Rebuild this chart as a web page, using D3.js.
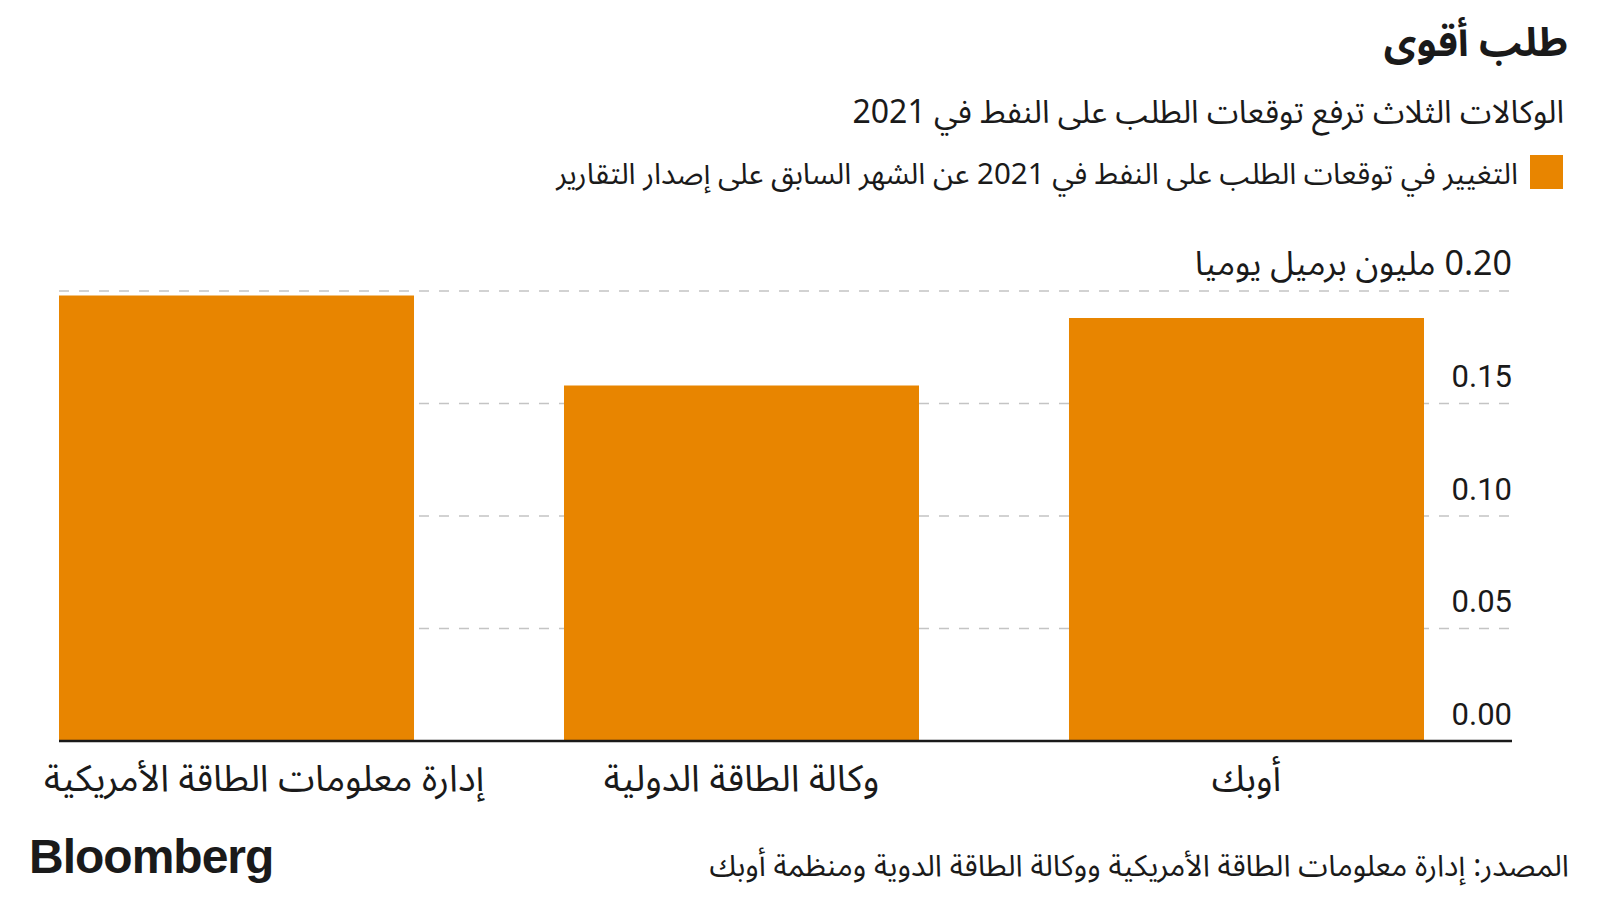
<!DOCTYPE html>
<html>
<head>
<meta charset="utf-8">
<script src="https://cdn.jsdelivr.net/npm/d3@7"></script>
<style>
  html, body { margin: 0; padding: 0; background: #fff; }
  svg text { fill: #1a1a1a; }
</style>
</head>
<body>
<svg id="chart" width="1600" height="900"></svg>
<script>
const agencies = ["إدارة معلومات الطاقة الأمريكية", "وكالة الطاقة الدولية", "أوبك"];
const demandChange = [0.198, 0.158, 0.188];
const tickValues = [0, 0.05, 0.1, 0.15, 0.2];
const unitLabel = "مليون برميل يوميا";

const title = "طلب أقوى";
const subtitle = "الوكالات الثلاث ترفع توقعات الطلب على النفط في 2021";
const legendLabel = "التغيير في توقعات الطلب على النفط في 2021 عن الشهر السابق على إصدار التقارير";
const source = "المصدر: إدارة معلومات الطاقة الأمريكية ووكالة الطاقة الدوية ومنظمة أوبك";

const ORANGE = "#e88500";
const AR_FONT = "'Noto Sans Arabic', 'DejaVu Sans', sans-serif";
const NUM_FONT = "Roboto, 'DejaVu Sans', sans-serif";

const svg = d3.select("#chart");

const plot = { left: 59, right: 1512, top: 291, bottom: 741, barsRight: 1424 };
const labelMinLeft = 44;

const x = d3.scaleBand()
  .domain(agencies)
  .range([plot.left, plot.barsRight])
  .paddingInner(0.297)
  .paddingOuter(0);

const y = d3.scaleLinear()
  .domain([0, 0.2])
  .range([plot.bottom, plot.top]);

// header
svg.append("text")
  .attr("x", 1568).attr("y", 56)
  .attr("direction", "rtl").attr("text-anchor", "start")
  .style("font-family", AR_FONT).style("font-weight", "bold").style("font-size", "40px")
  .text(title);

svg.append("text")
  .attr("x", 1564).attr("y", 123)
  .attr("direction", "rtl").attr("text-anchor", "start")
  .style("font-family", AR_FONT).style("font-size", "32px")
  .text(subtitle);

svg.append("rect")
  .attr("x", 1530).attr("y", 155)
  .attr("width", 33).attr("height", 34)
  .attr("fill", ORANGE);

svg.append("text")
  .attr("x", 1518).attr("y", 184)
  .attr("direction", "rtl").attr("text-anchor", "start")
  .style("font-family", AR_FONT).style("font-size", "29.5px")
  .text(legendLabel);

// gridlines
svg.append("g")
  .selectAll("line")
  .data(tickValues.filter(d => d > 0))
  .join("line")
  .attr("x1", plot.left).attr("x2", plot.right)
  .attr("y1", d => y(d)).attr("y2", d => y(d))
  .attr("stroke", "#c4c4c4")
  .attr("stroke-width", 1.5)
  .attr("stroke-dasharray", "10,10");

// bars
svg.append("g")
  .selectAll("rect")
  .data(agencies)
  .join("rect")
  .attr("x", d => x(d))
  .attr("width", x.bandwidth())
  .attr("y", (d, i) => y(demandChange[i]))
  .attr("height", (d, i) => y(0) - y(demandChange[i]))
  .attr("fill", ORANGE);

// y axis, labels sit above gridlines at right edge
const yAxis = d3.axisLeft(y)
  .tickValues(tickValues)
  .tickSize(0)
  .tickPadding(0)
  .tickFormat(d => d === 0.2 ? `${d3.format(".2f")(d)} ${unitLabel}` : d3.format(".2f")(d));

const yAxisG = svg.append("g")
  .attr("transform", `translate(${plot.right},0)`)
  .call(yAxis);
yAxisG.select(".domain").remove();
yAxisG.selectAll("text")
  .attr("dy", "-17px")
  .attr("direction", "rtl")
  .attr("text-anchor", "start")
  .style("font-family", d => d === 0.2 ? AR_FONT : NUM_FONT)
  .style("font-size", d => d === 0.2 ? "34px" : "31px")
  .style("fill", "#1a1a1a");

// baseline
svg.append("line")
  .attr("x1", plot.left).attr("x2", plot.right)
  .attr("y1", y(0)).attr("y2", y(0))
  .attr("stroke", "#1a1a1a")
  .attr("stroke-width", 2.5);

// category labels
const xAxis = d3.axisBottom(x).tickSize(0).tickPadding(0);
const xAxisG = svg.append("g")
  .attr("transform", `translate(0,${plot.bottom})`)
  .call(xAxis);
xAxisG.select(".domain").remove();
xAxisG.selectAll("text")
  .attr("dy", "50px")
  .style("font-family", AR_FONT)
  .style("font-size", "37px")
  .style("fill", "#1a1a1a");

// keep long labels from running past the left margin
xAxisG.selectAll(".tick text").each(function() {
  const box = this.getBBox();
  const tickX = x(d3.select(this.parentNode).datum()) + x.bandwidth() / 2;
  const left = tickX + box.x;
  if (left < labelMinLeft) d3.select(this).attr("x", labelMinLeft - left);
});

// footer
svg.append("text")
  .attr("x", 29).attr("y", 873)
  .style("font-family", "'Liberation Sans', Arial, sans-serif")
  .style("font-weight", "bold")
  .style("font-size", "48px")
  .style("letter-spacing", "-1px")
  .text("Bloomberg");

svg.append("text")
  .attr("x", 1569).attr("y", 876)
  .attr("direction", "rtl").attr("text-anchor", "start")
  .style("font-family", AR_FONT).style("font-size", "30px")
  .text(source);
</script>
</body>
</html>
